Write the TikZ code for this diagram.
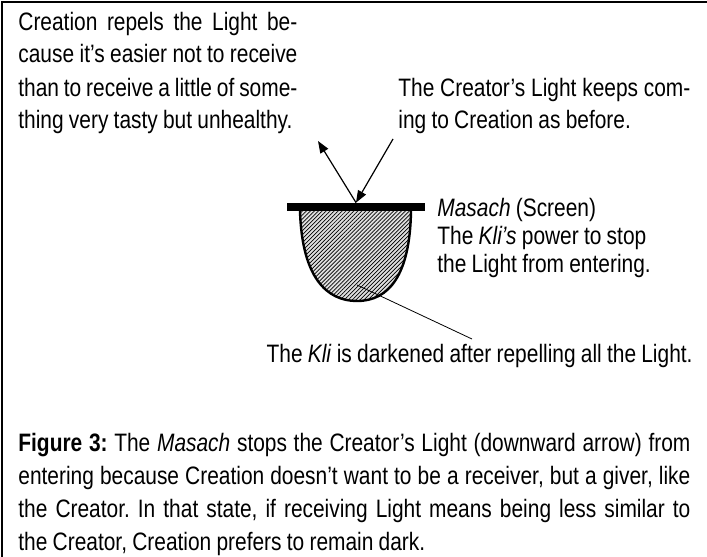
\documentclass[tikz,border=0pt]{standalone}
\usepackage{fontspec}
\setmainfont[FakeStretch=0.83,WordSpace=0.9]{Liberation Sans}
\usetikzlibrary{arrows.meta,positioning,patterns.meta}
\tikzset{
  txt/.style={inner sep=0pt,font=\fontsize{12.6pt}{16.5pt}\selectfont\frenchspacing},
  para/.style={txt,align=justify},
  sidenote/.style={inner sep=0pt,align=flush left,font=\fontsize{12.6pt}{14pt}\selectfont\frenchspacing},
  screen/.style={fill=black,inner sep=0pt,minimum width=69pt,minimum height=4pt},
  ray/.style={-{Triangle[length=6pt,width=4.5pt]},line width=0.6pt},
  pointer/.style={line width=0.4pt},
  frame/.style={line width=0.8pt}
}

\begin{document}
\begin{tikzpicture}[x=0.5pt,y=-0.5pt]
\useasboundingbox (0,0) rectangle (707,557);
\draw[frame] (2,557) -- (2,2) -- (707,2);
% texts
\node[para,text width=139.5pt,anchor=base west] (repeltxt) at (18,30)
  {Creation repels the Light be-\linebreak cause it’s easier not to receive\linebreak than to receive a little of some-\linebreak thing very tasty but unhealthy.};
\node[para,text width=146pt,anchor=base west] (lighttxt) at (398,96)
  {The Creator’s Light keeps com-\linebreak ing to Creation as before.};
\node[sidenote,text width=130pt,anchor=base west] (masachtxt) at (437,216)
  {\textit{Masach} (Screen)\\The \textit{Kli’s} power to stop\\the Light from entering.};
\node[txt,anchor=base east] (klitxt) at (693,362)
  {The \textit{Kli} is darkened after repelling all the Light.};
\node[para,text width=336pt,anchor=base west] (caption) at (18,451)
  {\textbf{Figure 3:} The \textit{Masach} stops the Creator’s Light (downward arrow) from\linebreak entering because Creation doesn’t want to be a receiver, but a giver, like\linebreak the Creator. In that state, if receiving Light means being less similar to\linebreak the Creator, Creation prefers to remain dark.};
% kli
\path[fill=gray!25,postaction={pattern={Lines[angle=45,distance=1.4pt,line width=0.35pt]}}]
  (300,211) .. controls (302,278) and (327,301) .. (357,301)
  .. controls (389,301) and (410,275) .. (411,211) -- cycle;
\draw[line width=1.2pt] (300,211) .. controls (302,278) and (327,301) .. (357,301)
  .. controls (389,301) and (410,275) .. (411,211);
\node[screen] (masach) at (356,207) {};
% rays
\coordinate (lightsrc) at (393,139);
\coordinate (repelend) at (318,141);
\draw[ray] (lightsrc) -- (masach.north);
\draw[ray] (masach.north) -- (repelend);
\coordinate (inkli) at (357,285);
\coordinate (kliend) at (472,339);
\draw[pointer] (inkli) -- (kliend);
\end{tikzpicture}
\end{document}
